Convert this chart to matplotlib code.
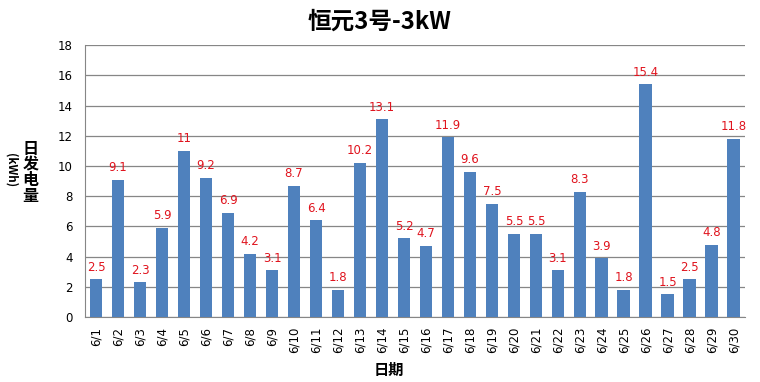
import numpy as np
import matplotlib
matplotlib.use("Agg")
from matplotlib import pyplot as plt

plt.rcParams['font.family'] = ['Noto Sans CJK SC', 'DejaVu Sans']

# data
days = ["6/%d" % d for d in range(1, 31)]
energy = [2.5, 9.1, 2.3, 5.9, 11, 9.2, 6.9, 4.2, 3.1, 8.7,
          6.4, 1.8, 10.2, 13.1, 5.2, 4.7, 11.9, 9.6, 7.5, 5.5,
          5.5, 3.1, 8.3, 3.9, 1.8, 15.4, 1.5, 2.5, 4.8, 11.8]
value_labels = ["%g" % v for v in energy]
ylabel_chars = ["日", "发", "电", "量"]

fig = plt.figure(figsize=(7.6, 3.82), dpi=100)
ax = fig.add_axes([0.112, 0.170, 0.868, 0.712])

x = np.arange(len(days))
ax.bar(x, energy, width=0.58, color="#4F81BD", zorder=3)
for xi, v, s in zip(x, energy, value_labels):
    ax.annotate(s, (xi, v), xytext=(0, 4), textcoords="offset points",
                ha="center", va="bottom", color="#E0141E", fontsize=8.5,
                family="DejaVu Sans")

ax.set_xlim(-0.5, len(days) - 0.5)
ax.set_ylim(0, 18)
ax.set_yticks(np.arange(0, 19, 2))
ax.set_xticks(x)
ax.set_xticklabels(days, rotation=90, fontsize=8.5, family="DejaVu Sans")
ax.tick_params(axis="y", labelsize=8.5, length=0, pad=9)
ax.tick_params(axis="x", length=0, pad=7)
for lbl in ax.get_yticklabels():
    lbl.set_family("DejaVu Sans")
ax.grid(axis="y", color="#868686", linewidth=0.9, zorder=0)
for s in ["top", "right"]:
    ax.spines[s].set_visible(False)
for s in ["left", "bottom"]:
    ax.spines[s].set_color("#868686")

fig.text(0.5, 0.942, "恒元3号-3kW", ha="center", va="center",
         fontsize=17, fontweight="bold")
fig.text(0.512, 0.032, "日期", ha="center", va="center",
         fontsize=11, fontweight="bold")
# stacked y label, one character per row
for i, ch in enumerate(ylabel_chars):
    fig.text(0.040, 1 - (149 + 15.5 * i) / 382, ch, ha="center", va="center",
             fontsize=11.5, fontweight="bold")
fig.text(0.014, 1 - 170 / 382, "(kWh)", ha="center", va="center", rotation=-90,
         fontsize=8.5, fontweight="bold")

fig.savefig("out.png", dpi=100)
